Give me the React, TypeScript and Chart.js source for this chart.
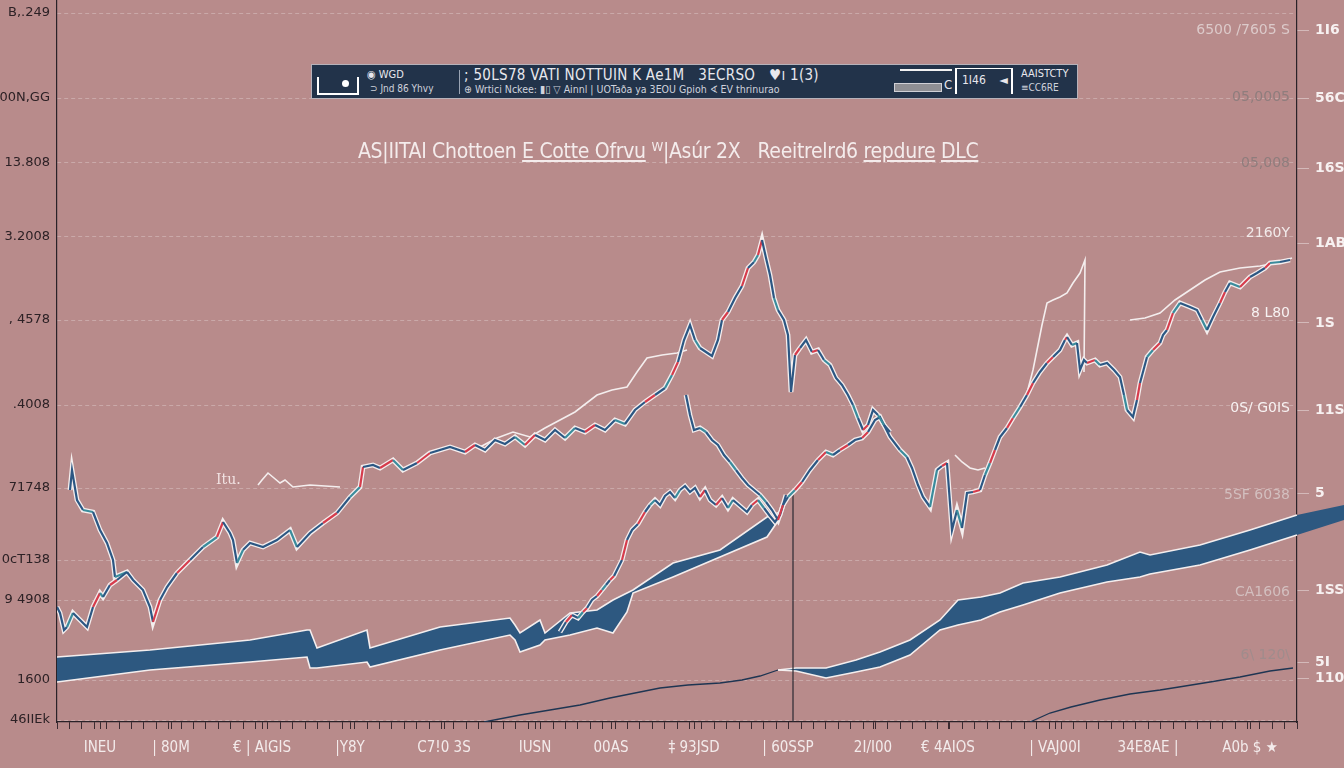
import React, { useEffect, useRef } from "react";
import { Chart, registerables } from "chart.js";

Chart.register(...registerables);

// ---------------- DATA (x: session index, y: price units) ----------------
const seriesLeftStart: [number, number][] = [[0,115],[3,109],[7,92],[10,95],[16,109],[23,102],[30,95],[36,115],[43,129],[46,125],[53,137],[60,142],[70,150]];

const seriesMain: [number, number][] = [[13,232],[15,252],[20,222],[26,212],[36,210],[43,192],[50,179],[56,162],[58,145],[70,150],[76,142],[86,132],[93,115],[96,100],[103,122],[110,135],[120,149],[133,162],[146,175],[160,185],[166,200],[173,189],[176,182],[180,159],[186,172],[193,179],[206,175],[220,182],[233,192],[240,175],[253,189],[266,199],[280,209],[293,225],[303,235],[306,255],[316,257],[323,254],[336,262],[346,252],[360,259],[373,269],[393,275],[408,270],[418,277],[428,272],[438,282],[448,278],[458,285],[468,277],[478,287],[488,282],[498,292],[508,284],[518,294],[528,290],[538,297],[548,292],[558,302],[568,298],[578,312],[588,320],[598,327],[608,334],[615,347],[621,360],[627,382],[633,397],[638,382],[643,374],[649,370],[655,366],[661,382],[665,402],[671,410],[678,424],[685,436],[691,454],[697,460],[701,467],[705,482],[709,464],[713,447],[717,424],[721,412],[727,402],[731,387],[734,330],[738,367],[743,374],[749,382],[755,370],[761,372],[767,362],[773,357],[779,344],[785,337],[791,327],[796,317],[801,304],[806,292],[811,297],[816,312],[821,307],[827,297],[833,290]];

const seriesRight: [number, number][] = [[629,327],[633,307],[637,292],[643,294],[649,290],[655,282],[661,277],[667,267],[673,260],[679,252],[685,244],[691,237],[697,232],[703,227],[709,220],[715,212],[721,202],[726,217],[731,225],[738,232],[745,240],[753,252],[761,262],[769,270],[776,267],[783,272],[791,277],[798,282],[805,284],[811,290],[818,302],[823,305],[833,285],[843,272],[850,265],[855,254],[861,237],[866,225],[873,215],[880,252],[885,256],[890,259],[895,192],[900,212],[905,194],[910,229],[916,230],[923,232],[928,247],[933,259],[938,272],[943,285],[950,294],[956,304],[963,315],[970,327],[976,339],[983,350],[990,359],[996,365],[1003,372],[1008,382],[1010,385],[1015,377],[1020,379],[1023,352],[1027,362],[1030,359],[1038,362],[1043,357],[1050,359],[1057,352],[1063,345],[1067,327],[1070,312],[1076,305],[1080,322],[1083,339],[1090,365],[1096,372],[1103,379],[1106,387],[1110,392],[1116,409],[1123,419],[1128,417],[1133,415],[1140,412],[1145,402],[1150,392],[1156,405],[1163,419],[1168,430],[1173,439],[1183,435],[1193,445],[1200,449],[1208,454],[1213,459],[1223,460],[1233,462]];

const seriesLower: [number, number][] = [[503,90],[509,100],[515,107],[521,104],[526,110],[530,114],[535,122],[540,126],[545,132],[549,137],[553,142],[557,146],[561,154],[565,162],[570,182],[575,192],[581,198],[588,210],[593,217],[598,222],[603,217],[608,226],[613,230],[618,224],[623,232],[628,236],[633,230],[638,234],[643,225],[648,232],[653,222],[659,217],[665,224],[671,214],[676,222],[683,216],[690,210],[695,217],[701,222],[707,214],[713,206],[718,200],[723,207],[729,227]];

const whiteEnvelopeA: [number, number][] = [[423,275],[440,284],[456,290],[473,285],[488,294],[503,302],[518,310],[540,327],[555,332],[570,335],[580,350],[590,364],[605,367],[620,369],[630,372]];
const whiteEnvelopeB: [number, number][] = [[970,329],[976,352],[980,372],[985,397],[990,419],[996,422],[1003,425],[1010,429],[1016,439],[1023,449],[1028,462],[1027,350]];
const whiteEnvelopeC: [number, number][] = [[1073,402],[1088,404],[1103,409],[1118,422],[1133,432],[1148,442],[1163,450],[1183,454],[1203,456],[1223,460],[1235,464]];
const whiteEnvelopeD: [number, number][] = [[898,267],[905,260],[913,254],[921,252],[928,254]];
const sparkItu: [number, number][] = [[201,237],[205,242],[211,249],[217,244],[223,239],[228,242],[236,235],[253,237],[283,235]];

const bandLeftX = [0,93,193,250,253,260,310,313,383,453,458,463,483,488,513,540,556,570,576,616,663,710,723];
const bandLeftHigh = [65,72,82,92,92,74,92,74,95,104,97,89,102,89,109,112,122,129,132,159,172,205,210];
const bandLeftLow = [40,52,60,65,54,54,60,55,72,87,82,70,77,82,87,94,89,110,129,145,165,185,204];

const bandRightX = [721,739,769,799,823,853,883,901,924,943,966,1003,1050,1083,1093,1143,1193,1240,1287];
const bandRightHigh = [52,54,54,62,70,82,102,122,125,129,139,145,157,170,167,177,192,207,217];
const bandRightLow = [52,51,44,50,55,67,92,97,102,110,117,129,140,145,148,157,172,187,202];

const thinLineA: [number, number][] = [[427,0],[463,7],[493,12],[523,17],[553,24],[583,30],[603,34],[631,37],[663,39],[685,42],[703,46],[721,52]];
const thinLineB: [number, number][] = [[973,0],[993,9],[1014,15],[1043,22],[1073,28],[1103,32],[1122,35],[1153,40],[1183,45],[1213,51],[1236,54]];
const markerLine: [number, number][] = [[736,232],[736,0]];

// ---------------- TICKS ----------------
const leftTickValues = [709, 624, 559, 485, 402, 317, 234, 162, 122, 42, 2];
const leftTickLabels = ["B,.249", "00N,GG", "13.808", "3.2008", ", 4578", ".4008", "71748", "0cT138", "9 4908", "1600", "46IIEk"];

const innerTickValues = [692, 625, 559, 489, 409, 314, 227, 130, 67];
const innerTickLabels = ["6500 /7605 S", "05,0005", "05,008", "2160Y", "8 L80", "0S/ G0IS", "5SF 6038", "CA1606", "6\\ 120\\"];

const outerTickValues = [692, 624, 554, 479, 399, 312, 229, 132, 60, 44];
const outerTickLabels = ["1I6", "56C", "16S", "1AB", "1S", "11S", "5", "1SS", "5I", "110"];

const xLabelValues = [43, 114, 205, 293, 387, 478, 554, 637, 731, 816, 891, 998, 1091, 1193];
const xLabels = ["INEU", "| 80M", "€ | AIGIS", "|Y8Y", "C7!0 3S", "IUSN", "00AS", "‡ 93JSD", "| 60SSP", "2I/I00", "€ 4AIOS", "| VAJ00I", "34E8AE |", "A0b $ ★"];

// ---------------- STYLE ----------------
const BG = "#b88b8b";
const NAVY = "#2c5783";
const RED = "#d63c4c";
const TEAL = "#3a8c9c";
const HALO = "#f4eeee";
const BAND = "#2d5880";
const NARROW = '"Liberation Sans Narrow","DejaVu Sans Condensed","Roboto Condensed",Roboto,sans-serif';
const ROUND = '"DejaVu Sans","Noto Sans",sans-serif';
const innerTickColors = ["#dccaca", "#8f7d7d", "#8f7d7d", "#f2eaea", "#f7f2f2", "#f7f2f2", "#d3bfbf", "#d3bfbf", "#a08c8c"];

const toPts = (arr: [number, number][]) => arr.map(([x, y]) => ({ x, y }));
const zipPts = (xs: number[], ys: number[]) => xs.map((x, i) => ({ x, y: ys[i] }));

const segColor = (ctx: any) => {
  const i = ctx.p0DataIndex;
  const up = ctx.p1.parsed.y > ctx.p0.parsed.y;
  if (i % 3 === 1 && up) return RED;
  if (i % 5 === 3) return TEAL;
  return NAVY;
};

const haloSet = (data: [number, number][]) => ({
  data: toPts(data), borderColor: HALO, borderWidth: 4.8, pointRadius: 0, tension: 0, fill: false, order: 20,
});
const colorSet = (data: [number, number][]) => ({
  data: toPts(data), borderColor: NAVY, borderWidth: 2.2, pointRadius: 0, tension: 0, fill: false, order: 10,
  segment: { borderColor: segColor },
});
const whiteSet = (data: [number, number][]) => ({
  data: toPts(data), borderColor: HALO, borderWidth: 1.6, pointRadius: 0, tension: 0, fill: false, order: 15,
});

const bandOverflow = {
  id: "bandOverflow",
  beforeDatasetsDraw(chart: any) {
    const { ctx, chartArea } = chart;
    chart.data.datasets.forEach((ds: any, i: number) => {
      if (!ds.overflowPair) return;
      const up = chart.getDatasetMeta(i - 1).data;
      const lo = chart.getDatasetMeta(i).data;
      ctx.save();
      ctx.beginPath();
      ctx.rect(chartArea.right, 0, chart.width - chartArea.right, chart.height);
      ctx.clip();
      ctx.beginPath();
      up.forEach((p: any, k: number) => (k ? ctx.lineTo(p.x, p.y) : ctx.moveTo(p.x, p.y)));
      for (let k = lo.length - 1; k >= 0; k--) ctx.lineTo(lo[k].x, lo[k].y);
      ctx.closePath();
      ctx.fillStyle = ds.backgroundColor;
      ctx.fill();
      ctx.restore();
    });
  },
};

export default function App() {
  const canvasRef = useRef<HTMLCanvasElement>(null);

  useEffect(() => {
    const canvas = canvasRef.current;
    if (!canvas) return;
    const datasets: any[] = [
      { data: zipPts(bandLeftX, bandLeftHigh), borderColor: HALO, borderWidth: 1.6, pointRadius: 0, tension: 0, fill: false, order: 30 },
      { data: zipPts(bandLeftX, bandLeftLow), borderColor: HALO, borderWidth: 1.6, pointRadius: 0, tension: 0, fill: "-1", backgroundColor: BAND, order: 30 },
      { data: zipPts(bandRightX, bandRightHigh), borderColor: HALO, borderWidth: 1.6, pointRadius: 0, tension: 0, fill: false, order: 30, clip: false },
      { data: zipPts(bandRightX, bandRightLow), borderColor: HALO, borderWidth: 1.6, pointRadius: 0, tension: 0, fill: "-1", backgroundColor: BAND, order: 30, clip: false, overflowPair: true },
      { data: toPts(thinLineA), borderColor: "#1e3552", borderWidth: 1.3, pointRadius: 0, tension: 0, fill: false, order: 25 },
      { data: toPts(thinLineB), borderColor: "#1e3552", borderWidth: 1.3, pointRadius: 0, tension: 0, fill: false, order: 25 },
      { data: toPts(markerLine), borderColor: "#2b2a33", borderWidth: 1.2, pointRadius: 0, tension: 0, fill: false, order: 25 },
      haloSet(seriesLeftStart), haloSet(seriesMain), haloSet(seriesRight), haloSet(seriesLower),
      colorSet(seriesLeftStart), colorSet(seriesMain), colorSet(seriesRight), colorSet(seriesLower),
      whiteSet(whiteEnvelopeA), whiteSet(whiteEnvelopeB), whiteSet(whiteEnvelopeC), whiteSet(whiteEnvelopeD), whiteSet(sparkItu),
    ];

    const chart = new Chart(canvas, {
      type: "line",
      data: { datasets },
      plugins: [bandOverflow],
      options: {
        responsive: false,
        animation: false,
        layout: { padding: 0 },
        plugins: { legend: { display: false }, tooltip: { enabled: false }, title: { display: false } },
        scales: {
          x: {
            type: "linear", min: 0, max: 1240,
            afterFit: (s: any) => { s.height = 46; s.paddingLeft = 0; s.paddingRight = 0; },
            afterBuildTicks: (axis: any) => {
              const vals = new Set<number>();
              for (let v = 0; v <= 1240.01; v += 12.4) vals.add(Math.round(v * 10) / 10);
              xLabelValues.forEach((v) => vals.add(v));
              axis.ticks = [...vals].sort((a, b) => a - b).map((v) => ({ value: v }));
            },
            ticks: {
              autoSkip: false, maxRotation: 0, minRotation: 0, padding: 10, color: "#f3ebeb",
              font: { family: NARROW, size: 15 },
              callback: (value: any) => { const i = xLabelValues.indexOf(Number(value)); return i >= 0 ? xLabels[i] : ""; },
            },
            grid: { display: true, drawOnChartArea: false, drawTicks: true, tickLength: 7, color: "#3b2b31", lineWidth: 1 },
            border: { display: true, color: "#2a2228", width: 1.2 },
          },
          y: {
            type: "linear", position: "left", min: 0, max: 722,
            afterFit: (s: any) => { s.width = 57; s.paddingTop = 0; s.paddingBottom = 0; },
            afterBuildTicks: (axis: any) => { axis.ticks = leftTickValues.map((v) => ({ value: v })); },
            ticks: {
              autoSkip: false, padding: 7, color: "#2c2125", font: { family: ROUND, size: 13 },
              callback: (_v: any, i: number) => leftTickLabels[i],
            },
            grid: { display: true, drawTicks: false, tickLength: 0, color: "rgba(255,255,255,0.26)", lineWidth: 1 },
            border: { display: true, color: "#2a2228", width: 1.2, dash: [4, 3] },
          },
          y2: {
            type: "linear", position: "right", min: 0, max: 722, weight: 0,
            afterFit: (s: any) => { s.width = 0; s.paddingTop = 0; s.paddingBottom = 0; },
            afterBuildTicks: (axis: any) => { axis.ticks = innerTickValues.map((v) => ({ value: v })); },
            ticks: {
              autoSkip: false, mirror: true, padding: -7, font: { family: ROUND, size: 14 },
              color: (ctx: any) => innerTickColors[ctx.index] || "#d6c2c2",
              callback: (_v: any, i: number) => innerTickLabels[i],
            },
            grid: { display: false },
            border: { display: false },
          },
          y3: {
            type: "linear", position: "right", min: 0, max: 722, weight: 1,
            afterFit: (s: any) => { s.width = 47; s.paddingTop = 0; s.paddingBottom = 0; },
            afterBuildTicks: (axis: any) => { axis.ticks = outerTickValues.map((v) => ({ value: v })); },
            ticks: {
              autoSkip: false, padding: 6, color: "#f7f1f1", font: { family: ROUND, size: 14, weight: "bold" },
              callback: (_v: any, i: number) => outerTickLabels[i],
            },
            grid: { display: true, drawOnChartArea: false, drawTicks: true, tickLength: 12, color: "rgba(255,255,255,0.4)" },
            border: { display: true, color: "#2a2228", width: 1.2 },
          },
        },
      } as any,
    });
    return () => chart.destroy();
  }, []);

  const abs = (l: number, t: number, extra: React.CSSProperties = {}): React.CSSProperties => ({
    position: "absolute", left: l, top: t, whiteSpace: "nowrap", ...extra,
  });

  return (
    <div style={{ position: "fixed", left: 0, top: 0, width: 1344, height: 768, background: BG, overflow: "hidden" }}>
      <canvas ref={canvasRef} width={1344} height={768} style={{ position: "absolute", left: 0, top: 0, width: 1344, height: 768 }} />

      {/* legend box */}
      <div style={{ position: "absolute", left: 311, top: 64, width: 767, height: 35, boxSizing: "border-box", background: "#22334a", border: "1px solid #b7b2ba", fontFamily: NARROW, color: "#e8e8ee" }}>
        <div style={abs(5, 12, { width: 38, height: 16, borderLeft: "2px solid #fff", borderBottom: "2px solid #fff", borderRight: "2px solid #fff" })} />
        <div style={abs(30, 15, { width: 7, height: 7, borderRadius: 4, background: "#fff" })} />
        <span style={abs(55, 3, { fontSize: 11 })}>◉ WGD</span>
        <span style={abs(58, 18, { fontSize: 10, color: "#cfd2dc" })}>⊃ Jnd 86 Yhvy</span>
        <div style={abs(147, 5, { width: 1, height: 24, background: "#9aa4b4" })} />
        <span style={abs(152, 1, { fontSize: 15, letterSpacing: 0.3 })}>; 50LS78 VATI NOTTUIN K Ae1M &nbsp; 3ECRSO &nbsp; ♥ı 1(3)</span>
        <span style={abs(152, 18, { fontSize: 10.5, color: "#cfd2dc" })}>⊕ Wrtici Nckee: ▮▯ ▽ Ainnl | UOTaða ya 3EOU Gpioh ∢ EV thrinurao</span>
        <div style={abs(588, 4, { width: 52, height: 2, background: "#f2f2f2" })} />
        <div style={abs(582, 18, { width: 46, height: 7, background: "#8f8f94", border: "1px solid #d0d0d6" })} />
        <span style={abs(632, 12, { fontSize: 13 })}>C</span>
        <div style={abs(643, 3, { width: 58, height: 26, borderLeft: "2px solid #fff", borderRight: "2px solid #fff", borderTop: "1px solid #fff", boxSizing: "border-box" })} />
        <span style={abs(650, 8, { fontSize: 12 })}>1I46 &nbsp;&nbsp; ◄</span>
        <span style={abs(709, 2, { fontSize: 11 })}>AAISTCTY</span>
        <span style={abs(709, 17, { fontSize: 10, color: "#cfd2dc" })}>≡CC6RE</span>
      </div>

      {/* title */}
      <div style={abs(358, 139, { fontFamily: NARROW, fontSize: 21, color: "#f4ecec", letterSpacing: -0.3 })}>
        AS|IITAI Chottoen <span style={{ textDecoration: "underline" }}>E Cotte Ofrvu</span> ᵂ|Asúr 2X &nbsp; Reeitrelrd6 <span style={{ textDecoration: "underline" }}>repdure</span> <span style={{ textDecoration: "underline" }}>DLC</span>
      </div>

      {/* small annotation */}
      <span style={abs(216, 471, { fontFamily: "DejaVu Serif, serif", fontSize: 14, color: "#f1e2e2" })}>Itu.</span>
    </div>
  );
}
